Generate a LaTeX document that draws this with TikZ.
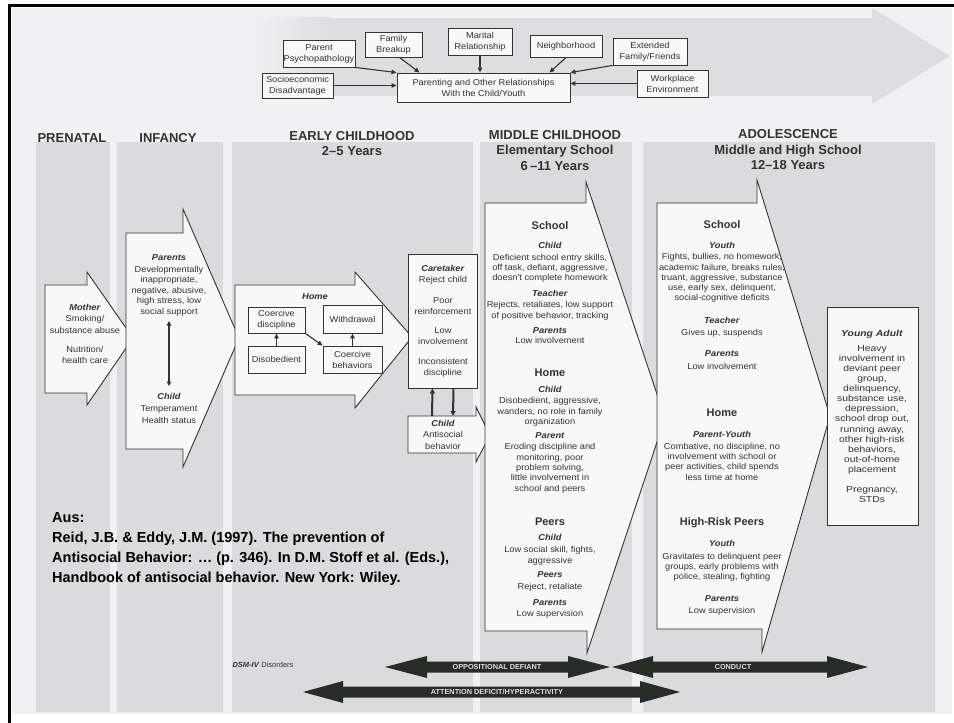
\documentclass[tikz,border=0pt]{standalone}
\usepackage{fontspec}
\setmainfont{Liberation Sans}
\newfontfamily\wfont{Liberation Sans}[FakeStretch=1.08]
\newfontfamily\yafont{Liberation Sans}[FakeStretch=1.18]
\usetikzlibrary{arrows.meta}
\definecolor{pagebg}{HTML}{F1F1F3}
\definecolor{colbg}{HTML}{DBDBDE}
\definecolor{topband}{HTML}{DEDEE0}
\definecolor{shapefill}{HTML}{F8F8F9}
\definecolor{ink}{HTML}{333333}
\definecolor{dsmfill}{HTML}{272C27}
\newcommand\mylbl[1]{\textbf{\textit{#1}}}
\newcommand\smallfnt{\wfont\fontsize{8.6}{10.3}\selectfont}
\begin{document}
\begin{tikzpicture}[x=1pt,y=-1pt,
  shp/.style={draw=ink, fill=shapefill, line width=0.9pt, line join=miter},
  tbox/.style={draw=ink, fill=shapefill, line width=0.9pt, align=center, text=ink, inner sep=0pt, font=\wfont\fontsize{8.6}{11}\selectfont},
  tx/.style={align=center, text=ink, inner sep=0pt, font=\smallfnt, anchor=north},
  hd/.style={text=ink, inner sep=0pt, font=\fontsize{11}{13}\selectfont\bfseries},
  stagehd/.style={text=ink, inner sep=0pt, align=center, font=\fontsize{13}{15.5}\selectfont\bfseries},
  conn/.style={draw=ink, line width=1.1pt, -{Triangle[length=5pt,width=4.5pt]}},
  connb/.style={draw=ink, line width=2pt, -{Triangle[length=5pt,width=5pt]}},
  dsmarrow/.style={fill=dsmfill, draw=none},
  dsmtext/.style={text=white!88!black, inner sep=0pt, font=\fontsize{7.3}{8}\selectfont\bfseries},
]
\useasboundingbox (0,0) rectangle (954,723);
\fill[white] (0,0) rectangle (954,723);
\fill[pagebg] (12,8) rectangle (952,714);

% big faint arrow at the top
\fill[topband] (255,18) -- (872,18) -- (872,8) -- (950,56) -- (872,104) -- (872,96) -- (255,96) -- cycle;
\shade[left color=pagebg, right color=topband] (250,17) rectangle (330,97);

% stage columns
\fill[colbg] (36,142) rectangle (110,712);
\fill[colbg] (117,142) rectangle (223,712);
\fill[colbg] (232,142) rectangle (473,712);
\fill[colbg] (480,142) rectangle (632,712);
\fill[colbg] (643,142) rectangle (935,712);

% frame
\draw[black, line width=3.5pt] (7.75,5.5) -- (954,5.5);
\draw[black, line width=3.5pt] (9.5,4) -- (9.5,723);

% top influence boxes
\node[tbox, minimum width=72pt, minimum height=27pt] (pp) at (319,53.5) {Parent\\Psychopathology};
\node[tbox, minimum width=57pt, minimum height=25pt] (fb) at (393.5,44.5) {Family\\Breakup};
\node[tbox, minimum width=64pt, minimum height=27pt] (mr) at (480,41.5) {Marital\\Relationship};
\node[tbox, minimum width=72pt, minimum height=22pt] (nb) at (566,46) {Neighborhood};
\node[tbox, minimum width=74pt, minimum height=27pt] (ef) at (650,51.5) {Extended\\Family/Friends};
\node[tbox, minimum width=71pt, minimum height=25pt] (se) at (297.5,85.5) {Socioeconomic\\Disadvantage};
\node[tbox, minimum width=173pt, minimum height=29pt] (po) at (483.5,87.5) {Parenting and Other Relationships\\With the Child/Youth};
\node[tbox, minimum width=71pt, minimum height=27pt] (we) at (672.5,83.5) {Workplace\\Environment};

\draw[conn] (pp.south east) -- (po.north west);
\draw[conn] ([xshift=6pt]fb.south) -- ([xshift=-64pt]po.north);
\draw[conn] (mr.south) -- (mr.south |- po.north);
\draw[conn] (nb.south) -- ([xshift=66pt]po.north);
\draw[conn] (ef.south west) -- (po.north east);
\draw[conn] (se.east) -- (se.east -| po.west);
\draw[conn] (we.west) -- (we.west -| po.east);

% stage headings
\node[stagehd] (hPre) at (72,138) {PRENATAL};
\node[stagehd] (hInf) at (168,138) {INFANCY};
\node[stagehd, anchor=north] (hEarly) at (352,131) {EARLY CHILDHOOD\\2--5 Years};
\node[stagehd, anchor=north] (hMid) at (555,130) {MIDDLE CHILDHOOD\\Elementary School\\6\,--11 Years};
\node[stagehd, anchor=north] (hAdo) at (788,129.5) {ADOLESCENCE\\Middle and High School\\12--18 Years};

% prenatal arrow
\draw[shp] (45,285) -- (87,285) -- (87,272) -- (133,338) -- (87,405) -- (87,393) -- (45,393) -- cycle;
\node[tx, font=\wfont\fontsize{8.6}{11.5}\selectfont] (preA) at (85,304) {\mylbl{Mother}\\Smoking/\\substance abuse};
\node[tx, font=\wfont\fontsize{8.6}{11.5}\selectfont] (preB) at (85,346) {Nutrition/\\health care};

% infancy arrow
\draw[shp] (126,233) -- (183,233) -- (183,209) -- (239,338) -- (183,467) -- (183,449) -- (126,449) -- cycle;
\node[tx, font=\wfont\fontsize{8.6}{10.5}\selectfont] (infP) at (169,254) {\mylbl{Parents}\\[1.8pt]Developmentally\\inappropriate,\\negative, abusive,\\high stress, low\\social support};
\node[tx, font=\wfont\fontsize{8.6}{12}\selectfont] (infC) at (169,393) {\mylbl{Child}\\Temperament\\Health status};
\coordinate (infA) at (169,321);
\coordinate (infB) at (169,386);
\draw[ink, line width=1.5pt, {Triangle[length=4.5pt,width=4.5pt]}-{Triangle[length=4.5pt,width=4.5pt]}] (infA) -- (infB);

% early childhood: home arrow
\draw[shp] (235,285) -- (355,285) -- (355,272) -- (412,337) -- (355,408) -- (355,395) -- (235,395) -- cycle;
\node[text=ink, inner sep=0pt, font=\wfont\fontsize{8.6}{10}\selectfont] (homeL) at (315,297) {\mylbl{Home}};
\node[tbox, minimum width=57pt, minimum height=26pt] (cd) at (276.5,320) {Coercive\\discipline};
\node[tbox, minimum width=57pt, minimum height=27pt] (dob) at (276.5,359.5) {Disobedient};
\node[tbox, minimum width=59pt, minimum height=28pt] (wd) at (352.5,319) {Withdrawal};
\node[tbox, minimum width=59pt, minimum height=27pt] (cb) at (352.5,359.5) {Coercive\\behaviors};
\draw[conn] (dob.north) -- (cd.south);
\draw[conn] (cd.south east) -- (cb.north west);
\draw[conn] (cb.north) -- (wd.south);

% caretaker box and child arrow
\node[shp, minimum width=69pt, minimum height=134pt, inner sep=0pt] (care) at (442.5,321) {};
\node[tx, font=\wfont\fontsize{8.6}{11}\selectfont] (careA) at (443,265) {\mylbl{Caretaker}\\Reject child};
\node[tx, font=\wfont\fontsize{8.6}{11}\selectfont] (careB) at (443,297) {Poor\\reinforcement};
\node[tx, font=\wfont\fontsize{8.6}{11}\selectfont] (careC) at (443,327) {Low\\involvement};
\node[tx, font=\wfont\fontsize{8.6}{11}\selectfont] (careD) at (443,358) {Inconsistent\\discipline};
\draw[shp] (408,416) -- (476,416) -- (476,407) -- (490,435) -- (476,462) -- (476,453) -- (408,453) -- cycle;
\coordinate (chtop) at (442,416);
\node[tx, font=\wfont\fontsize{8.6}{11.5}\selectfont] (chT) at (443,420) {\mylbl{Child}\\Antisocial\\behavior};
\draw[connb] ([xshift=-10pt]chtop) -- ([xshift=-10pt]care.south);
\draw[connb] ([xshift=11pt]care.south) -- ([xshift=11pt]chtop);

% middle childhood arrow
\draw[shp] (485,203) -- (586,203) -- (586,182) -- (665,418) -- (587,653) -- (587,631) -- (485,631) -- cycle;
\node[hd] (mcSchool) at (550,226) {School};
\node[tx] (mcS1) at (550,242.5) {\mylbl{Child}\\[1pt]Deficient school entry skills,\\off task, defiant, aggressive,\\doesn't complete homework};
\node[tx] (mcS2) at (550,290) {\mylbl{Teacher}\\[1pt]Rejects, retaliates, low support\\of positive behavior, tracking};
\node[tx] (mcS3) at (550,327) {\mylbl{Parents}\\Low involvement};
\node[hd] (mcHome) at (550,373) {Home};
\node[tx] (mcH1) at (550,386) {\mylbl{Child}\\[1pt]Disobedient, aggressive,\\wanders, no role in family\\organization};
\node[tx] (mcH2) at (550,432) {\mylbl{Parent}\\[1.5pt]Eroding discipline and\\monitoring, poor\\problem solving,\\little involvement in\\school and peers};
\node[hd] (mcPeers) at (550,522) {Peers};
\node[tx] (mcP1) at (550,534.5) {\mylbl{Child}\\[1.5pt]Low social skill, fights,\\aggressive};
\node[tx] (mcP2) at (550,571.5) {\mylbl{Peers}\\[1.5pt]Reject, retaliate};
\node[tx] (mcP3) at (550,599) {\mylbl{Parents}\\[1.5pt]Low supervision};

% adolescence arrow
\draw[shp] (657,203) -- (757,203) -- (757,180) -- (830,416) -- (762,652) -- (762,629) -- (657,629) -- cycle;
\node[hd] (adSchool) at (722,225) {School};
\node[tx] (adS1) at (722,242) {\mylbl{Youth}\\[1pt]Fights, bullies, no homework,\\academic failure, breaks rules,\\truant, aggressive, substance\\use, early sex, delinquent,\\social-cognitive deficits};
\node[tx] (adS2) at (722,317) {\mylbl{Teacher}\\[2pt]Gives up, suspends};
\node[tx] (adS3) at (722,350) {\mylbl{Parents}\\[3pt]Low involvement};
\node[hd] (adHome) at (722,413) {Home};
\node[tx] (adH1) at (722,431) {\mylbl{Parent-Youth}\\[1.5pt]Combative, no discipline, no\\involvement with school or\\peer activities, child spends\\less time at home};
\node[hd] (adPeers) at (722,523) {High-Risk Peers};
\node[tx] (adP1) at (722,540) {\mylbl{Youth}\\[2.5pt]Gravitates to delinquent peer\\groups, early problems with\\police, stealing, fighting};
\node[tx] (adP2) at (722,595) {\mylbl{Parents}\\[2pt]Low supervision};

% young adult box
\node[shp, minimum width=91pt, minimum height=218pt, inner sep=0pt] (ya) at (872.5,416) {};
\node[tx, font=\yafont\fontsize{8.8}{10.1}\selectfont] (yaL) at (872,330) {\mylbl{Young Adult}};
\node[tx, font=\yafont\fontsize{8.8}{10.1}\selectfont] (yaT) at (872,345) {Heavy\\involvement in\\deviant peer\\group,\\delinquency,\\substance use,\\depression,\\school drop out,\\running away,\\other high-risk\\behaviors,\\out-of-home\\placement};
\node[tx, font=\yafont\fontsize{8.8}{10.1}\selectfont] (yaT2) at (872,486) {Pregnancy,\\STDs};

% citation
\node[anchor=north west, inner sep=0pt, align=left, font=\fontsize{14.5}{20}\selectfont\bfseries, text=black] (cite) at (52,512) {Aus:\\Reid, J.B. \& Eddy, J.M. (1997). The prevention of\\Antisocial Behavior: \dots\ (p. 346). In D.M. Stoff et al. (Eds.),\\Handbook of antisocial behavior. New York: Wiley.};

% DSM-IV disorders
\node[text=ink, inner sep=0pt, font=\fontsize{7.5}{9}\selectfont] (dsmL) at (263,665) {\textit{\textbf{DSM-IV}} Disorders};
\fill[dsmarrow] (385,667) -- (427,656) -- (427,661.5) -- (568,661.5) -- (568,656) -- (610,667) -- (568,678) -- (568,672.5) -- (427,672.5) -- (427,678) -- cycle;
\node[dsmtext] (odT) at (497,667) {OPPOSITIONAL DEFIANT};
\fill[dsmarrow] (612,667) -- (653,656) -- (653,661.5) -- (827,661.5) -- (827,656) -- (868,667) -- (827,678) -- (827,672.5) -- (653,672.5) -- (653,678) -- cycle;
\node[dsmtext] (cdT) at (733,667) {CONDUCT};
\fill[dsmarrow] (303,692) -- (343,681) -- (343,686.5) -- (640,686.5) -- (640,681) -- (680,692) -- (640,703) -- (640,697.5) -- (343,697.5) -- (343,703) -- cycle;
\node[dsmtext] (adhT) at (497,692) {ATTENTION DEFICIT/HYPERACTIVITY};
\end{tikzpicture}
\end{document}
